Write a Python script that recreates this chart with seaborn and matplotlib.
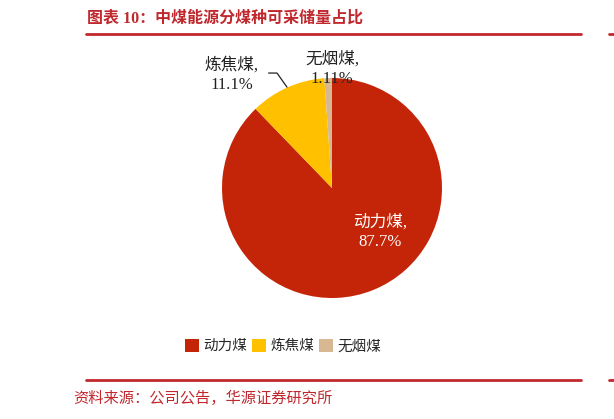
import matplotlib
matplotlib.use('Agg')
import matplotlib.pyplot as plt
import seaborn as sns
import numpy as np

# data
categories = ['动力煤', '炼焦煤', '无烟煤']
shares = [87.7, 11.1, 1.11]
share_labels = ['87.7%', '11.1%', '1.11%']
colors = ['#C42508', '#FFC000', '#D8B892']

title = '图表 10：中煤能源分煤种可采储量占比'
source = '资料来源：公司公告，华源证券研究所'

sns.set_theme(style='white')
plt.rcParams['font.family'] = ['Liberation Serif', 'Noto Sans CJK SC', 'DejaVu Sans']
plt.rcParams['axes.unicode_minus'] = False

W, H = 614, 419
fig = plt.figure(figsize=(W / 100, H / 100), dpi=100)
fig.patch.set_facecolor('white')

# pie axes: center (332,188) px, radius 110 px
cx, cy, r = 332, 188, 110
ax = fig.add_axes([(cx - r) / W, (H - cy - r) / H, 2 * r / W, 2 * r / H])
wedges, _ = ax.pie(shares, colors=colors, startangle=90, counterclock=False,
                   radius=1.0, wedgeprops=dict(linewidth=0))
ax.set_xlim(-1, 1)
ax.set_ylim(-1, 1)
ax.set_aspect('equal')
ax.axis('off')

label_font = dict(fontsize=12, ha='center', va='center', linespacing=1.3)

# 动力煤 inside the slice
ax.text(0.44, -0.40, categories[0] + ',\n' + share_labels[0], color='white', **label_font)

# 炼焦煤 with a leader line to the slice edge
ax.text(-0.91, 1.03, categories[1] + ',\n' + share_labels[1], color='#222222',
        clip_on=False, **label_font)
w = wedges[1]
mid = np.deg2rad((w.theta1 + w.theta2) / 2)
ex, ey = np.cos(mid) * 1.0, np.sin(mid) * 1.0
ax.plot([-0.58, -0.50, ex], [1.045, 1.045, ey], color='#222222', lw=0.9,
        clip_on=False, solid_capstyle='butt')

# 无烟煤 above the top
ax.text(0.0, 1.08, categories[2] + ',\n' + share_labels[2], color='#222222',
        clip_on=False, **label_font)

# legend
handles = [plt.Rectangle((0, 0), 1, 1, facecolor=c, edgecolor='none') for c in colors]
fig.legend(handles, categories, loc='center', bbox_to_anchor=(283 / W, 1 - 346 / H),
           ncol=3, frameon=False, fontsize=10.5, handlelength=0.95, handleheight=1.0,
           handletextpad=0.3, columnspacing=0.35, borderpad=0)

# title, rules and source
red = '#C0282E'
fig.text(87 / W, 1 - 19 / H, title, color=red, fontsize=11.5, fontweight='bold',
         ha='left', va='center')
fig.add_artist(plt.Line2D([86 / W, 581 / W], [1 - 34 / H] * 2, color=red, lw=2))
fig.add_artist(plt.Line2D([86 / W, 581 / W], [1 - 380 / H] * 2, color=red, lw=2))
fig.add_artist(plt.Line2D([609 / W, 1], [1 - 34 / H] * 2, color=red, lw=2))
fig.add_artist(plt.Line2D([609 / W, 1], [1 - 380 / H] * 2, color=red, lw=2))
fig.text(73 / W, 1 - 398 / H, source, color=red, fontsize=11, ha='left', va='center')

fig.savefig('out.png', dpi=100, facecolor='white')
